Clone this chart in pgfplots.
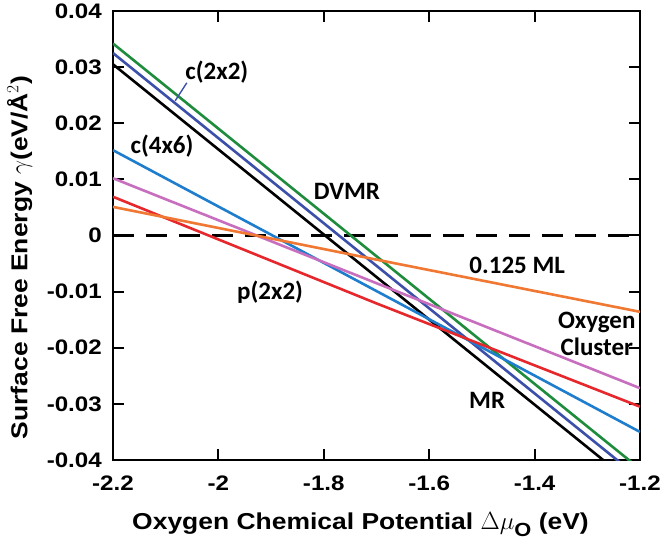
\documentclass[border=0pt]{standalone}
\usepackage{amsmath}
\usepackage{pgfplots}
\pgfplotsset{compat=1.18}
\usepackage{fontspec}
\setmainfont{Liberation Sans}[FakeStretch=1.15]
\newfontfamily\lbl{Carlito}

\definecolor{cgreen}{RGB}{30,140,60}
\definecolor{cdblue}{RGB}{60,80,170}
\definecolor{cblue}{RGB}{30,125,205}
\definecolor{cmag}{RGB}{200,110,190}
\definecolor{cred}{RGB}{230,40,45}
\definecolor{corange}{RGB}{240,120,50}

\begin{document}
\begin{tikzpicture}
\begin{axis}[
  scale only axis,
  width=527pt, height=449pt,
  xmin=-2.2, xmax=-1.2,
  ymin=-0.04, ymax=0.04,
  xtick={-2.2,-2,-1.8,-1.6,-1.4,-1.2},
  ytick={-0.04,-0.03,-0.02,-0.01,0,0.01,0.02,0.03,0.04},
  xticklabels={-2.2,-2,-1.8,-1.6,-1.4,-1.2},
  yticklabels={-0.04,-0.03,-0.02,-0.01,0,0.01,0.02,0.03,0.04},
  scaled y ticks=false,
  tick align=inside,
  major tick length=11pt,
  tick style={line width=2pt, black},
  axis line style={line width=2.2pt},
  ticklabel style={font=\fontsize{21}{24}\selectfont\bfseries, inner sep=0pt},
  xticklabel style={yshift=-16pt},
  yticklabel style={xshift=-11pt},
  xlabel={Oxygen Chemical Potential {\fontsize{28}{29}\selectfont$\Delta\mu$}\raisebox{-7pt}{\fontsize{19}{20}\selectfont O} (eV)},
  ylabel={Surface Free Energy $\gamma$(eV/\AA$^2$)},
  label style={font=\fontsize{23}{26}\selectfont\bfseries, inner sep=0pt},
  xlabel style={at={(rel axis cs:0.5,0)}, anchor=base, yshift=-69pt, xshift=-16pt},
  ylabel style={at={(rel axis cs:0,0.5)}, anchor=north, yshift=106pt, xshift=-22pt},
  every axis plot/.append style={line width=2.6pt},
]
\addplot[black, dash pattern=on 21pt off 12pt, line width=2.8pt] coordinates {(-2.2,0) (-1.2,0)};

\addplot[cgreen] coordinates {(-2.2,0.0342) (-1.2,-0.0416)};
\addplot[cdblue] coordinates {(-2.2,0.0325) (-1.2,-0.0433)};
\addplot[black] coordinates {(-2.2,0.0305) (-1.2,-0.0453)};
\addplot[cblue] coordinates {(-2.2,0.0152) (-1.7,-0.0099) (-1.2,-0.0350)};
\addplot[cmag] coordinates {(-2.2,0.0102) (-1.7,-0.0085) (-1.2,-0.0272)};
\addplot[cred] coordinates {(-2.2,0.0069) (-1.7,-0.0121) (-1.2,-0.0305)};
\addplot[corange] coordinates {(-2.2,0.0051) (-1.7,-0.0043) (-1.2,-0.0136)};

\draw[cdblue, line width=1.4pt] (axis cs:-2.060,0.0272) -- (axis cs:-2.082,0.0240);

\tikzset{lab/.style={font=\lbl\fontsize{25}{27}\selectfont\bfseries, inner sep=0pt}}
\node[lab] at (axis cs:-2.003,0.0291) {c(2x2)};
\node[lab] at (axis cs:-2.107,0.0159) {c(4x6)};
\node[lab] at (axis cs:-1.756,0.0079) {DVMR};
\node[lab] at (axis cs:-1.433,-0.0054) {0.125 ML};
\node[lab, align=center] at (axis cs:-1.282,-0.0176) {Oxygen\\Cluster};
\node[lab] at (axis cs:-1.490,-0.0293) {MR};
\node[lab] at (axis cs:-1.902,-0.0101) {p(2x2)};

\coordinate (bl) at (rel axis cs:0,0);
\coordinate (tr) at (rel axis cs:1,1);
\end{axis}
\path ([shift={(-113pt,-81pt)}]bl) rectangle ([shift={(24pt,11pt)}]tr);
\end{tikzpicture}
\end{document}
